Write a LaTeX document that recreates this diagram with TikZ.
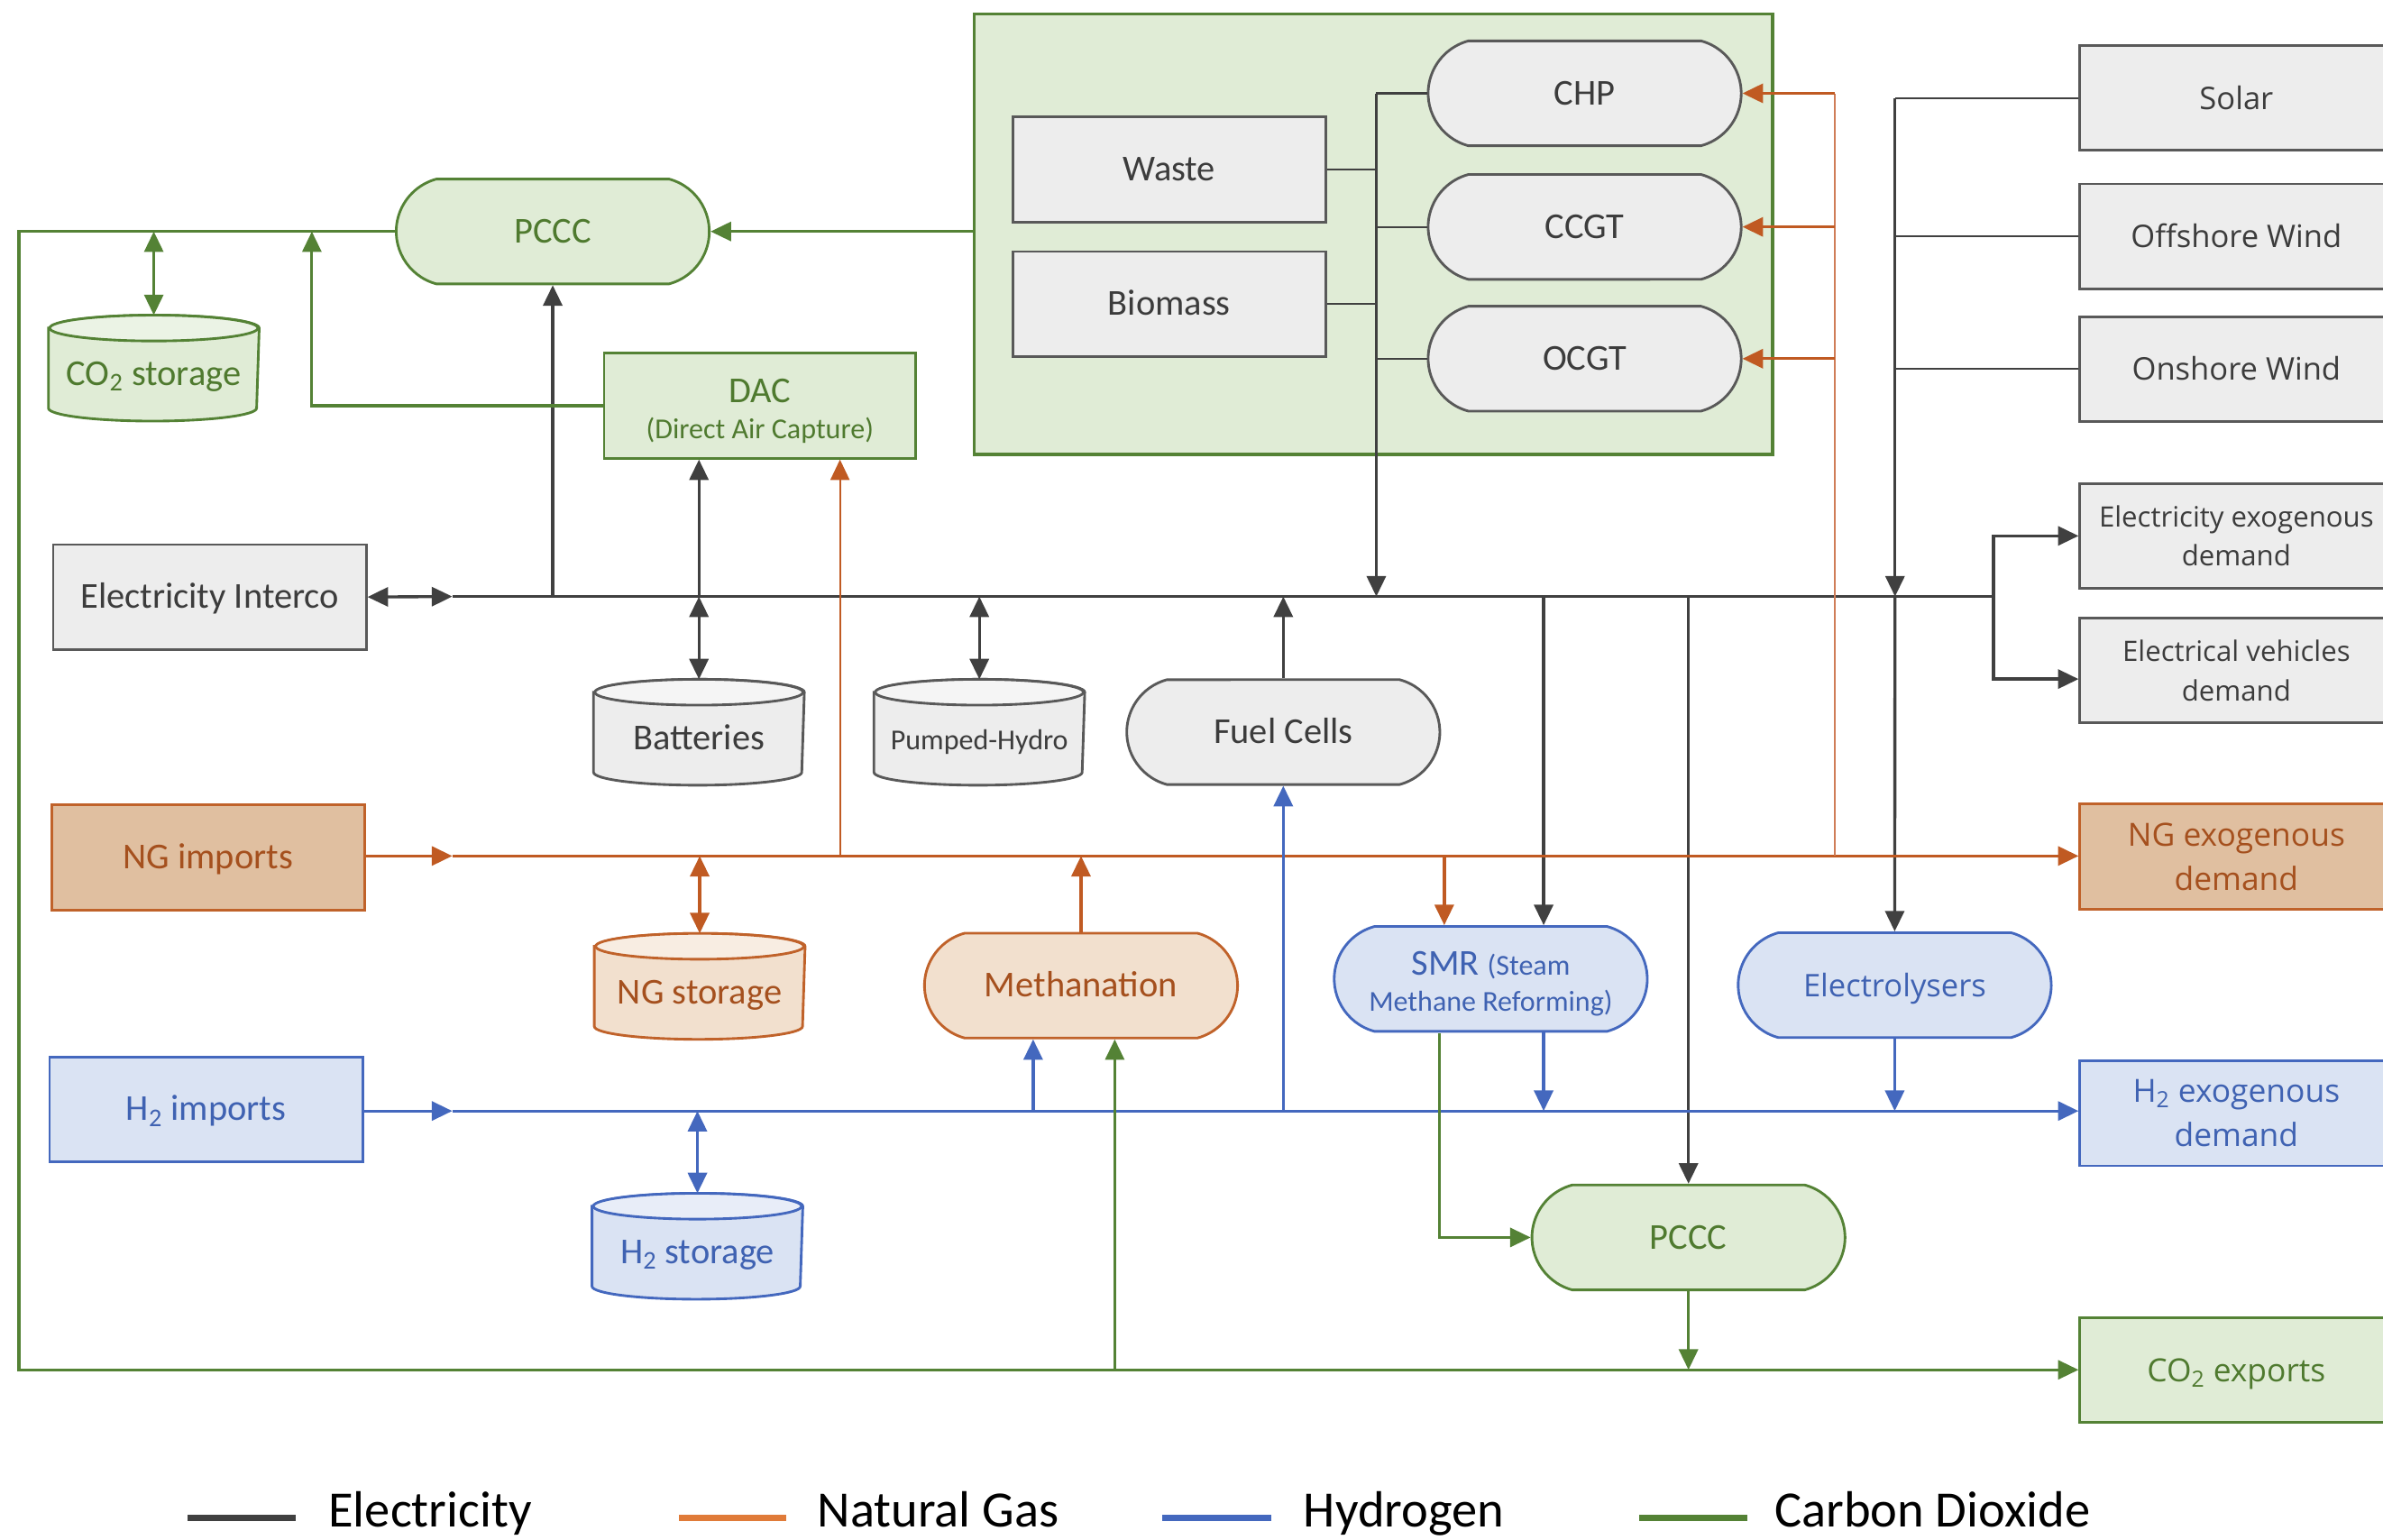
\documentclass[tikz,border=0pt]{standalone}
\usepackage{fontspec}
\setmainfont{Carlito}
\newfontfamily\segoe{Open Sans}
\usetikzlibrary{shapes.misc,arrows.meta,backgrounds}

% electricity
\definecolor{eline}{HTML}{404040}
\definecolor{edraw}{HTML}{595959}
\definecolor{efill}{HTML}{EDEDED}
\definecolor{etank}{HTML}{EDEDED}
\definecolor{etop}{HTML}{F5F5F5}
\definecolor{etext}{HTML}{3C3C3C}
% natural gas
\definecolor{nline}{HTML}{C05A22}
\definecolor{nriser}{HTML}{CF7D58}
\definecolor{ndraw}{HTML}{C0622A}
\definecolor{nfill}{HTML}{E0BFA0}
\definecolor{ntank}{HTML}{F2E0CE}
\definecolor{ntop}{HTML}{F8EDE2}
\definecolor{ntext}{HTML}{A5501E}
\definecolor{legng}{HTML}{E07B39}
% hydrogen
\definecolor{hline}{HTML}{4468BE}
\definecolor{hdraw}{HTML}{4468BE}
\definecolor{hfill}{HTML}{DAE3F3}
\definecolor{htank}{HTML}{DAE3F3}
\definecolor{htop}{HTML}{E8EDF8}
\definecolor{htext}{HTML}{3F62B2}
% carbon dioxide
\definecolor{cline}{HTML}{548235}
\definecolor{cdraw}{HTML}{548235}
\definecolor{cfill}{HTML}{E0ECD6}
\definecolor{ctank}{HTML}{E0ECD6}
\definecolor{ctop}{HTML}{EBF3E5}
\definecolor{ctext}{HTML}{4F7A2F}

\tikzset{
  basenode/.style={line width=1.7pt, align=center, inner sep=0pt, font=\fontsize{24}{24}\selectfont},
  oneline/.style={text height=18pt, text depth=3pt},
  boxn/.style={basenode, rectangle, minimum width=206pt, minimum height=69pt},
  pilln/.style={basenode, rounded rectangle, rounded rectangle arc length=150, minimum width=206pt, minimum height=69pt},
  tanknode/.style={basenode, rectangle, minimum width=137pt, minimum height=68pt, text height=26pt, text depth=3pt},
  elec/.style={draw=edraw, fill=efill, text=etext},
  ngas/.style={draw=ndraw, fill=nfill, text=ntext},
  nglt/.style={draw=ndraw, fill=ntank, text=ntext},
  hyd/.style={draw=hdraw, fill=hfill, text=htext},
  carb/.style={draw=cdraw, fill=cfill, text=ctext},
  widefont/.style={font=\segoe\fontsize{20.5}{28}\selectfont},
  widetwo/.style={font=\segoe\fontsize{18.5}{26}\selectfont},
  widetwob/.style={font=\segoe\fontsize{21}{29}\selectfont},
  eflow/.style={draw=eline, line width=2pt},
  ethin/.style={draw=eline, line width=1.2pt},
  nflow/.style={draw=nline, line width=2pt},
  nthin/.style={draw=nline, line width=1.3pt},
  nriserline/.style={draw=nriser, line width=1.3pt},
  hflow/.style={draw=hline, line width=2pt},
  cflow/.style={draw=cline, line width=1.9pt},
  legline/.style={line width=3.8pt},
  legtext/.style={anchor=base west, inner sep=0pt, font=\fontsize{33.5}{33.5}\selectfont, text=black},
}

% storage cylinder: name, position, colour prefix, label
\newcommand\tank[4]{%
  \node[tanknode, text=#3text] (#1) at (#2) {#4};
  \begin{pgfonlayer}{background}
    \path[draw=#3draw, fill=#3tank, line width=1.7pt]
      ([yshift=-8.5pt]#1.north west) -- ([yshift=8.5pt]#1.south west)
      arc[start angle=180, end angle=360, x radius=68.5pt, y radius=8.5pt]
      -- ([yshift=-8.5pt]#1.north east)
      arc[start angle=0, end angle=180, x radius=68.5pt, y radius=8.5pt] -- cycle;
    \path[draw=#3draw, fill=#3top, line width=1.7pt]
      ([yshift=-8.5pt]#1.north) ellipse[x radius=68.5pt, y radius=8.5pt];
  \end{pgfonlayer}}

\begin{document}
\begin{tikzpicture}[x=1pt, y=-1pt, >={Triangle[length=13.5pt,width=12.5pt]}]
\useasboundingbox (0,0) rectangle (1568,1013);

% ---------- thermal plant group ----------
\node[draw=cdraw, fill=cfill, line width=2.2pt, minimum width=525.5pt, minimum height=289.7pt, inner sep=0pt] (plant) at (903.8,154) {};
\node[boxn, elec, oneline] (waste) at (769.3,111.5) {Waste};
\node[boxn, elec, oneline] (biomass) at (769.3,200) {Biomass};
\node[pilln, elec, oneline] (chp) at (1042.7,61.4) {CHP};
\node[pilln, elec, oneline] (ccgt) at (1042.7,149.3) {CCGT};
\node[pilln, elec, oneline] (ocgt) at (1042.7,236) {OCGT};

% ---------- carbon capture ----------
\node[pilln, carb, oneline] (pcccA) at (363.7,152.3) {PCCC};
\tank{co2st}{101.2,242.2}{c}{CO\textsubscript{2} storage}
\node[boxn, carb, minimum width=205pt] (dac) at (500,267) {\rule{0pt}{22.5pt}DAC\\{\fontsize{19}{24}\selectfont (Direct Air Capture)}};

% ---------- electricity ----------
\node[boxn, elec, oneline] (interco) at (138,392.8) {Electricity Interco};
\tank{batteries}{459.9,481.8}{e}{Batteries}
\tank{pumped}{644.4,481.8}{e}{\fontsize{19}{24}\selectfont Pumped-Hydro}
\node[pilln, elec, oneline] (fc) at (844.4,481.7) {Fuel Cells};

\node[boxn, elec, oneline, widefont] (solar) at (1471.5,64.4) {Solar};
\node[boxn, elec, oneline, widefont] (offshore) at (1471.5,155.5) {Offshore Wind};
\node[boxn, elec, oneline, widefont] (onshore) at (1471.5,242.8) {Onshore Wind};
\node[boxn, elec, widetwo] (elecexo) at (1471.5,352.6) {Electricity exogenous\\demand};
\node[boxn, elec, widetwo] (ev) at (1471.5,441.2) {Electrical vehicles\\demand};

% ---------- natural gas ----------
\node[boxn, ngas, oneline] (ngimp) at (136.9,564.2) {NG imports};
\tank{ngst}{460.4,649}{n}{NG storage}
\node[pilln, nglt, oneline] (meth) at (711.3,648.5) {Methanation};
\node[boxn, ngas, widetwob] (ngexo) at (1471.5,563.6) {NG exogenous\\demand};

% ---------- hydrogen ----------
\node[pilln, hyd] (smr) at (980.9,644.1) {\rule{0pt}{22pt}SMR {\fontsize{19}{24}\selectfont(Steam}\\{\fontsize{19}{24}\selectfont Methane Reforming)}};
\node[pilln, hyd, oneline, widefont] (elys) at (1246.7,648.2) {Electrolysers};
\node[boxn, hyd, oneline] (h2imp) at (135.6,729.9) {H\textsubscript{2} imports};
\tank{h2st}{458.9,820}{h}{H\textsubscript{2} storage}
\node[boxn, hyd, widetwob] (h2exo) at (1471.5,732.6) {H\textsubscript{2} exogenous\\demand};

% ---------- CO2 outlet ----------
\node[pilln, carb, oneline] (pcccB) at (1111,814.2) {PCCC};
\node[boxn, carb, oneline, widetwob] (co2exp) at (1471.5,901.5) {CO\textsubscript{2} exports};

% ---------- bus coordinates ----------
\coordinate (ebusL) at (297.6,392.5);
\coordinate (ebusR) at (1311.8,392.5);
\coordinate (pbus) at (905.6,61.4);
\coordinate (sbus) at (1246.9,392.5);
\coordinate (esmr) at (1015.7,392.5);
\coordinate (nbusL) at (297.6,563.2);
\coordinate (nrise) at (1207.2,563.2);
\coordinate (nsmr) at (950.3,563.2);
\coordinate (ndac) at (552.7,563.2);
\coordinate (hbusL) at (297.6,731);
\coordinate (hmeth) at (679.8,731);
\coordinate (cBL) at (12.5,901.3);
\coordinate (cmeth) at (733.5,901.3);
\coordinate (dacret) at (205.2,152.3);
\coordinate (csmr) at (947,680);

% ---------- electricity flows ----------
\draw[eflow,<->] (interco.east) -- (ebusL);
\draw[eflow] (ebusL) -- (ebusR);
\draw[eflow,->] (pcccA.south |- ebusL) -- (pcccA.south);
\draw[eflow,->] (batteries.north |- ebusL) -- (batteries.north |- dac.south);
\draw[eflow,<->] (batteries.north |- ebusL) -- (batteries.north);
\draw[eflow,<->] (pumped.north |- ebusL) -- (pumped.north);
\draw[eflow,->] (fc.north) -- (fc.north |- ebusL);
\draw[ethin] (chp.west) -- (chp.west -| pbus);
\draw[ethin] (waste.east) -- (waste.east -| pbus);
\draw[ethin] (ccgt.west) -- (ccgt.west -| pbus);
\draw[ethin] (biomass.east) -- (biomass.east -| pbus);
\draw[ethin] (ocgt.west) -- (ocgt.west -| pbus);
\draw[eflow,->] (pbus) -- (pbus |- ebusL);
\draw[ethin] (solar.west) -- (solar.west -| sbus);
\draw[ethin] (offshore.west) -- (offshore.west -| sbus);
\draw[ethin] (onshore.west) -- (onshore.west -| sbus);
\draw[eflow,->] (sbus |- solar.west) -- (sbus);
\draw[eflow,->] (sbus) -- (elys.north);
\draw[eflow,->] (ebusR) |- (elecexo.west);
\draw[eflow,->] (ebusR) |- ([yshift=-5.6pt]ev.west);
\draw[eflow,->] (esmr) -- (esmr |- smr.north);
\draw[eflow,->] (pcccB.north |- ebusL) -- (pcccB.north);

% ---------- natural gas flows ----------
\draw[nflow,->] (ngimp.east |- nbusL) -- (nbusL);
\draw[nflow,->] (nbusL) -- (ngexo.west |- nbusL);
\draw[nflow,<->] (ngst.north |- nbusL) -- (ngst.north);
\draw[nflow,->] (meth.north) -- (meth.north |- nbusL);
\draw[nflow,->] (nsmr) -- (nsmr |- smr.north);
\draw[nthin,->] (ndac) -- (ndac |- dac.south);
\draw[nriserline] (nrise) -- (nrise |- chp.east);
\draw[nflow,->] (chp.east -| nrise) -- (chp.east);
\draw[nflow,->] (ccgt.east -| nrise) -- (ccgt.east);
\draw[nflow,->] (ocgt.east -| nrise) -- (ocgt.east);

% ---------- hydrogen flows ----------
\draw[hflow,->] (h2imp.east |- hbusL) -- (hbusL);
\draw[hflow,->] (hbusL) -- (h2exo.west |- hbusL);
\draw[hflow,<->] (h2st.north |- hbusL) -- (h2st.north);
\draw[hflow,->] (hmeth) -- (hmeth |- meth.south);
\draw[hflow,->] (fc.south |- hbusL) -- (fc.south);
\draw[hflow,->] (esmr |- smr.south) -- (esmr |- hbusL);
\draw[hflow,->] (elys.south) -- (elys.south |- hbusL);

% ---------- carbon dioxide flows ----------
\draw[cflow,->] (plant.west |- pcccA.east) -- (pcccA.east);
\draw[cflow,->] (pcccA.west) -| (cBL) -- (co2exp.west |- cBL);
\draw[cflow,<->] (co2st.north |- pcccA.west) -- (co2st.north);
\draw[cflow,->] (dac.west) -| (dacret);
\draw[cflow,->] (csmr) |- (pcccB.west);
\draw[cflow,->] (cmeth) -- (cmeth |- meth.south);
\draw[cflow,->] (pcccB.south) -- (pcccB.south |- cBL);

% ---------- legend ----------
\node[legtext] (legE) at (216,1004.6) {Electricity};
\node[legtext] (legN) at (537.7,1004.6) {Natural Gas};
\node[legtext] (legH) at (857.6,1004.6) {Hydrogen};
\node[legtext] (legC) at (1167.5,1004.6) {Carbon Dioxide};
\draw[legline, eline] (123.4,998.8) -- (194.4,998.8);
\draw[legline, legng] (446.6,998.8) -- (517.6,998.8);
\draw[legline, hline] (765,998.8) -- (836.3,998.8);
\draw[legline, cline] (1078.7,998.8) -- (1149.8,998.8);
\end{tikzpicture}
\end{document}
